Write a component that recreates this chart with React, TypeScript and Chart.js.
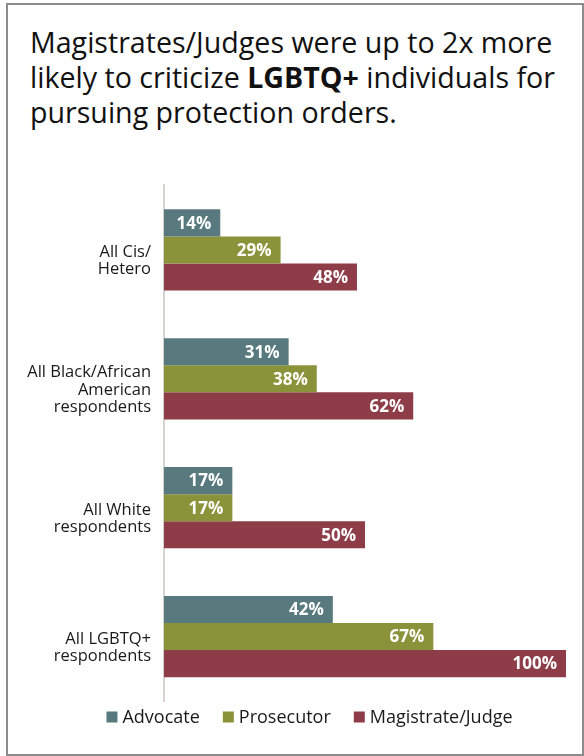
import React, { useEffect, useRef } from "react";
import { Chart, registerables } from "chart.js";

Chart.register(...registerables);

const categories: string[][] = [
  ["All Cis/", "Hetero"],
  ["All Black/African", "American", "respondents"],
  ["All White", "respondents"],
  ["All LGBTQ+", "respondents"],
];
const advocate = [14, 31, 17, 42];
const prosecutor = [29, 38, 17, 67];
const magistrate = [48, 62, 50, 100];
const seriesNames = ["Advocate", "Prosecutor", "Magistrate/Judge"];
const seriesColors = ["#587A7E", "#8A9339", "#8D3C48"];

const FONT = "'Open Sans', 'Noto Sans', sans-serif";

const valueLabels = {
  id: "valueLabels",
  afterDatasetsDraw(chart: any) {
    const ctx = chart.ctx;
    ctx.save();
    ctx.fillStyle = "#ffffff";
    ctx.font = `bold 17px ${FONT}`;
    ctx.textAlign = "right";
    ctx.textBaseline = "middle";
    chart.data.datasets.forEach((ds: any, i: number) => {
      const meta = chart.getDatasetMeta(i);
      meta.data.forEach((el: any, j: number) => {
        ctx.fillText(ds.data[j] + "%", el.x - 9, el.y + 1);
      });
    });
    ctx.restore();
  },
};

const customLegend = {
  id: "customLegend",
  afterDraw(chart: any) {
    const ctx = chart.ctx;
    const box = 11;
    const gapText = 5;
    const gapItem = 23;
    ctx.save();
    ctx.font = `18px ${FONT}`;
    ctx.textBaseline = "middle";
    ctx.textAlign = "left";
    const items = chart.data.datasets.map((ds: any) => ({
      text: ds.label,
      color: ds.backgroundColor,
      w: box + gapText + ctx.measureText(ds.label).width,
    }));
    const total =
      items.reduce((s: number, it: any) => s + it.w, 0) + gapItem * (items.length - 1);
    let x = 301.5 - total / 2;
    const y = chart.chartArea.bottom + 17;
    items.forEach((it: any) => {
      ctx.fillStyle = it.color;
      ctx.fillRect(x, y - box / 2 - 1, box, box);
      ctx.fillStyle = "#1a1a1a";
      ctx.fillText(it.text, x + box + gapText, y);
      x += it.w + gapItem;
    });
    ctx.restore();
  },
};

export default function App() {
  const ref = useRef<HTMLCanvasElement>(null);
  useEffect(() => {
    if (!ref.current) return;
    const chart = new Chart(ref.current, {
      type: "bar",
      data: {
        labels: categories,
        datasets: [advocate, prosecutor, magistrate].map((d, i) => ({
          label: seriesNames[i],
          data: d,
          backgroundColor: seriesColors[i],
          borderWidth: 0,
          categoryPercentage: 0.63,
          barPercentage: 1,
        })),
      },
      options: {
        indexAxis: "y",
        animation: false,
        responsive: false,
        maintainAspectRatio: false,
        layout: { padding: { top: 10, right: 16, bottom: 53, left: 0 } },
        scales: {
          x: { display: false, min: 0, max: 100 },
          y: {
            grid: { display: false, drawTicks: false },
            border: { display: true, color: "#d6d2ce", width: 2 },
            ticks: {
              padding: 13,
              labelOffset: 11,
              color: "#1a1a1a",
              font: { family: FONT, size: 16.5, lineHeight: 1.06 },
            },
            afterFit(scale: any) {
              scale.width = 156;
            },
          },
        },
        plugins: {
          tooltip: { enabled: false },
          legend: { display: false },
        },
      },
      plugins: [valueLabels, customLegend],
    });
    return () => chart.destroy();
  }, []);

  return (
    <div
      style={{
        position: "absolute",
        left: 6,
        top: 3,
        width: 578,
        height: 753,
        border: "2px solid #8c8c8c",
        boxSizing: "border-box",
        background: "#fff",
      }}
    >
      <div
        style={{
          position: "absolute",
          left: 22,
          top: 19,
          fontFamily: FONT,
          fontSize: 28.6,
          lineHeight: "35px",
          color: "#111",
          width: 560,
          whiteSpace: "nowrap",
        }}
      >
        Magistrates/Judges were up to 2x more
        <br />
        likely to criticize <b>LGBTQ+</b> individuals for
        <br />
        pursuing protection orders.
      </div>
      <canvas
        ref={ref}
        width={574}
        height={599}
        style={{ position: "absolute", left: 0, top: 150, width: 574, height: 599 }}
      />
    </div>
  );
}
